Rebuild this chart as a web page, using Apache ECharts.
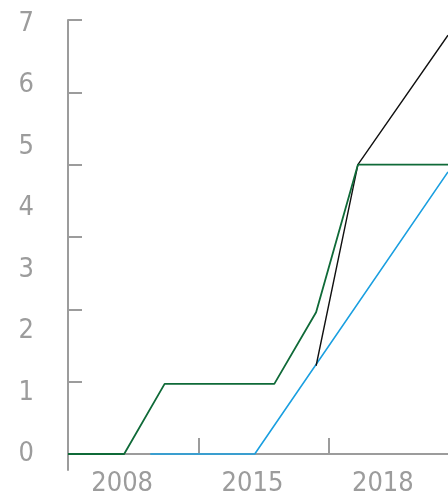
<!DOCTYPE html>
<html>
<head>
<meta charset="utf-8">
<script src="https://cdn.jsdelivr.net/npm/echarts@6/dist/echarts.min.js"></script>
<style>html,body{margin:0;padding:0;background:#fff}#c{width:448px;height:496px}</style>
</head>
<body>
<div id="c"></div>
<script>
// categories / tick labels
const xCategories = ['2008', '2015', '2018'];
const yLabelMin = 0, yLabelMax = 7;
const yTickValues = [0, 1, 2, 3, 4, 5, 6];
const xTickValues = [1, 2];
// series values [x, y]
const greenSeries = [[0, 0], [0.43, 0], [0.74, 0.97], [1.58, 0.97], [1.9, 1.96], [2.22, 4.0], [2.91, 4.0]];
const blackSeries = [[1.9, 1.22], [2.22, 4.0], [2.91, 5.79]];
const blueSeries = [[0.63, 0], [1.43, 0], [2.91, 3.9]];

const FONT = "'Liberation Sans Narrow', 'DejaVu Sans Condensed', sans-serif";
const GREY = '#9c9c9c';

const chart = echarts.init(document.getElementById('c'), null, {renderer: 'canvas'});
chart.setOption({
  animation: false,
  grid: [
    {left: 68, top: 20, width: 380, height: 450, outerBoundsMode: 'none'},   // data
    {left: 68, top: 24, width: 380, height: 430, outerBoundsMode: 'none'},   // y labels
    {left: 57, top: 20, width: 391, height: 434, outerBoundsMode: 'none'}    // x labels
  ],
  xAxis: [
    {gridIndex: 0, type: 'value', min: 0, max: 2.91,
      axisLine: {show: true, onZero: true, lineStyle: {color: GREY, width: 2}},
      axisTick: {show: true, inside: true, length: 16, customValues: xTickValues, lineStyle: {color: GREY, width: 2}},
      axisLabel: {show: false}, splitLine: {show: false}},
    {gridIndex: 0, type: 'value', min: 0, max: 2.91,
      axisLine: {show: false, onZero: true},
      axisTick: {show: true, inside: false, length: 12, customValues: xTickValues, lineStyle: {color: GREY, width: 2}},
      axisLabel: {show: false}, splitLine: {show: false}},
    {gridIndex: 1, type: 'value', show: false},
    {gridIndex: 2, type: 'category', data: xCategories, boundaryGap: true,
      axisLine: {show: false}, axisTick: {show: false}, splitLine: {show: false},
      axisLabel: {color: GREY, fontSize: 27, fontFamily: FONT, margin: 16}}
  ],
  yAxis: [
    {gridIndex: 0, type: 'value', min: -0.221, max: 6,
      axisLine: {show: true, onZero: true, lineStyle: {color: GREY, width: 2}},
      axisTick: {show: true, inside: true, length: 14, customValues: yTickValues, lineStyle: {color: GREY, width: 2}},
      axisLabel: {show: false}, splitLine: {show: false}},
    {gridIndex: 0, type: 'value', min: -0.221, max: 6,
      axisLine: {show: false, onZero: true},
      axisTick: {show: true, inside: false, length: 14, customValues: yTickValues, lineStyle: {color: GREY, width: 2}},
      axisLabel: {show: false}, splitLine: {show: false}},
    {gridIndex: 1, type: 'value', min: yLabelMin, max: yLabelMax, interval: 1,
      axisLine: {show: false}, axisTick: {show: false}, splitLine: {show: false},
      axisLabel: {color: GREY, fontSize: 27, fontFamily: FONT, margin: 34}},
    {gridIndex: 2, type: 'value', show: false}
  ],
  series: [
    {type: 'line', xAxisIndex: 0, yAxisIndex: 0, data: blueSeries, symbol: 'none',
      lineStyle: {color: '#1a9fe0', width: 1.6}},
    {type: 'line', xAxisIndex: 0, yAxisIndex: 0, data: blackSeries, symbol: 'none',
      lineStyle: {color: '#111111', width: 1.4}},
    {type: 'line', xAxisIndex: 0, yAxisIndex: 0, data: greenSeries, symbol: 'none',
      lineStyle: {color: '#0f6a38', width: 1.8}}
  ]
});
</script>
</body>
</html>
